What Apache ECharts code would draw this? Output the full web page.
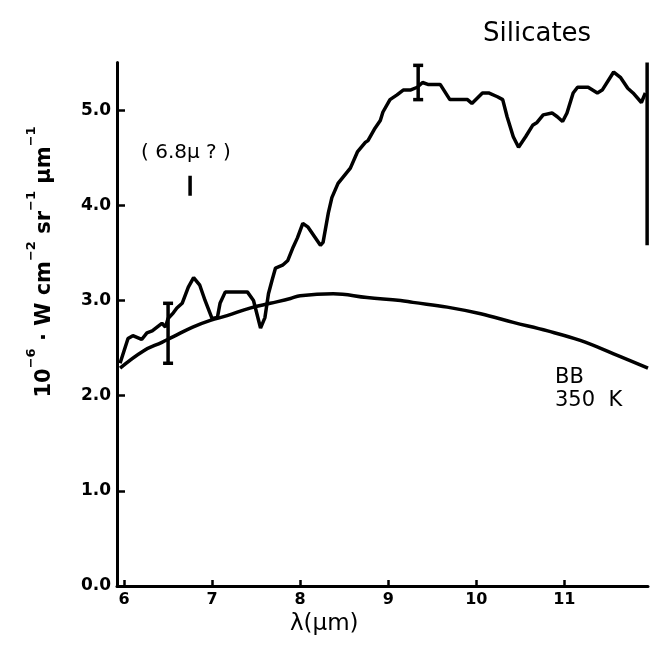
<!DOCTYPE html>
<html>
<head>
<meta charset="utf-8">
<script src="https://cdn.jsdelivr.net/npm/echarts@6/dist/echarts.min.js"></script>
<style>html,body{margin:0;padding:0;background:#fff}#c{width:651px;height:647px}</style>
</head>
<body>
<div id="c"></div>
<script>
// Observed spectrum (lambda in micron, intensity in 1e-6 W cm^-2 sr^-1 um^-1)
const spectrum = [
 [5.955,2.34],[6.045,2.60],[6.10,2.63],[6.20,2.59],[6.26,2.66],[6.32,2.68],[6.375,2.72],[6.43,2.76],[6.47,2.72],
 [6.50,2.81],[6.56,2.87],[6.60,2.92],[6.66,2.97],[6.73,3.14],[6.79,3.24],[6.86,3.16],[6.92,3.00],[7.00,2.81],
 [7.06,2.82],[7.09,2.97],[7.15,3.09],[7.40,3.09],[7.47,3.00],[7.55,2.71],[7.60,2.82],[7.64,3.07],[7.68,3.21],
 [7.72,3.34],[7.80,3.37],[7.86,3.42],[7.92,3.56],[7.97,3.66],[8.03,3.81],[8.09,3.77],[8.23,3.58],[8.26,3.61],
 [8.32,3.92],[8.36,4.08],[8.43,4.23],[8.57,4.39],[8.65,4.56],[8.74,4.66],[8.77,4.68],[8.85,4.81],[8.91,4.89],
 [8.94,4.98],[9.02,5.11],[9.10,5.16],[9.17,5.21],[9.25,5.21],[9.33,5.24],[9.39,5.29],[9.45,5.27],[9.59,5.27],
 [9.70,5.11],[9.90,5.11],[9.95,5.07],[10.07,5.18],[10.14,5.18],[10.24,5.14],[10.30,5.11],[10.35,4.93],[10.42,4.72],
 [10.48,4.61],[10.56,4.72],[10.64,4.84],[10.69,4.87],[10.76,4.95],[10.86,4.97],[10.92,4.93],[10.98,4.88],[11.03,4.97],
 [11.10,5.18],[11.15,5.24],[11.27,5.24],[11.375,5.18],[11.43,5.21],[11.56,5.40],[11.64,5.34],[11.72,5.23],[11.78,5.18],
 [11.875,5.08],[11.92,5.18]
];
// Black body 350 K curve
const blackbody = [
 [5.955,2.29],[6.22,2.47],[6.43,2.56],[6.56,2.62],[6.78,2.72],[6.98,2.79],[7.17,2.84],[7.43,2.92],[7.66,2.97],
 [7.89,3.02],[8.0,3.05],[8.375,3.07],[8.76,3.03],[9.14,3.00],[9.28,2.98],[9.67,2.93],[10.05,2.86],[10.42,2.77],
 [10.81,2.68],[11.18,2.58],[11.56,2.44],[11.95,2.29]
];
// Error bars: [lambda, low, high, hasCaps]
const errorBars = [[6.5,2.34,2.97,1],[9.34,5.11,5.47,1],[11.94,3.58,5.50,0]];
// 6.8 micron marker
const marker68 = [[6.75,4.31],[6.75,4.10]];
const xTicks = [6,7,8,9,10,11];
const yTicks = [0,1,2,3,4,5];

const FONT = 'DejaVu Sans';
const chart = echarts.init(document.getElementById('c'));
chart.setOption({
  animation: false,
  backgroundColor: '#fff',
  grid: {left: 117, right: 3, top: 62.5, bottom: 61},
  xAxis: {
    type: 'value', min: 5.92, max: 11.95,
    splitLine: {show: false},
    axisLine: {lineStyle: {color: '#000', width: 3}},
    axisTick: {inside: true, length: 6, lineStyle: {color: '#000', width: 2.5}, customValues: xTicks},
    axisLabel: {customValues: xTicks, color: '#000', fontFamily: FONT, fontSize: 16, fontWeight: 'bold', margin: 6,
      formatter: v => String(v)}
  },
  yAxis: {
    type: 'value', min: 0, max: 5.5,
    splitLine: {show: false},
    axisLine: {lineStyle: {color: '#000', width: 3}},
    axisTick: {inside: true, length: 8, lineStyle: {color: '#000', width: 2.5}, customValues: yTicks},
    axisLabel: {customValues: yTicks, color: '#000', fontFamily: FONT, fontSize: 17, fontWeight: 'bold', margin: 6,
      formatter: v => v.toFixed(1)}
  },
  series: [
    {type: 'line', data: spectrum, symbol: 'none', lineStyle: {color: '#000', width: 3.5}, z: 3},
    {type: 'line', data: blackbody, symbol: 'none', smooth: 0.4, lineStyle: {color: '#000', width: 3.5}, z: 3},
    {type: 'line', data: marker68, symbol: 'none', lineStyle: {color: '#000', width: 3.5}, z: 3},
    {type: 'custom', data: errorBars, z: 4,
      renderItem: function (params, api) {
        const x = api.value(0);
        const lo = api.coord([x, api.value(1)]);
        const hi = api.coord([x, api.value(2)]);
        const caps = api.value(3);
        const st = {stroke: '#000', lineWidth: 3.5};
        const children = [{type: 'line', shape: {x1: lo[0], y1: lo[1], x2: hi[0], y2: hi[1]}, style: st}];
        if (caps) {
          children.push({type: 'line', shape: {x1: lo[0]-5, y1: lo[1], x2: lo[0]+5, y2: lo[1]}, style: st});
          children.push({type: 'line', shape: {x1: hi[0]-5, y1: hi[1], x2: hi[0]+5, y2: hi[1]}, style: st});
        }
        return {type: 'group', children: children};
      }
    }
  ],
  graphic: [
    {type: 'text', left: 483, top: 21, style: {text: 'Silicates', fill: '#000', font: '26px "DejaVu Sans"'}},
    {type: 'text', left: 141, top: 143, style: {text: '( 6.8µ ? )', fill: '#000', font: '20px "DejaVu Sans"'}},
    {type: 'text', left: 555, top: 367, style: {text: 'BB', fill: '#000', font: '21px "DejaVu Sans"'}},
    {type: 'text', left: 555, top: 390, style: {text: '350  K', fill: '#000', font: '21px "DejaVu Sans"'}},
    {type: 'text', left: 290, top: 613, style: {text: 'λ(µm)', fill: '#000', font: '23px "DejaVu Sans"'}},
    {type: 'text', x: 40, y: 262, rotation: Math.PI / 2,
      style: {
        text: '{n|10}{s|−6}{n| · W cm}{s|−2}{n| sr}{s|−1}{n| µm}{s|−1}',
        align: 'center', verticalAlign: 'middle', fill: '#000',
        rich: {
          n: {fontSize: 21, fontFamily: FONT, fontWeight: 'bold', lineHeight: 30, verticalAlign: 'bottom'},
          s: {fontSize: 13, fontFamily: FONT, fontWeight: 'bold', lineHeight: 30, verticalAlign: 'top'}
        }
      }
    }
  ]
});
</script>
</body>
</html>
